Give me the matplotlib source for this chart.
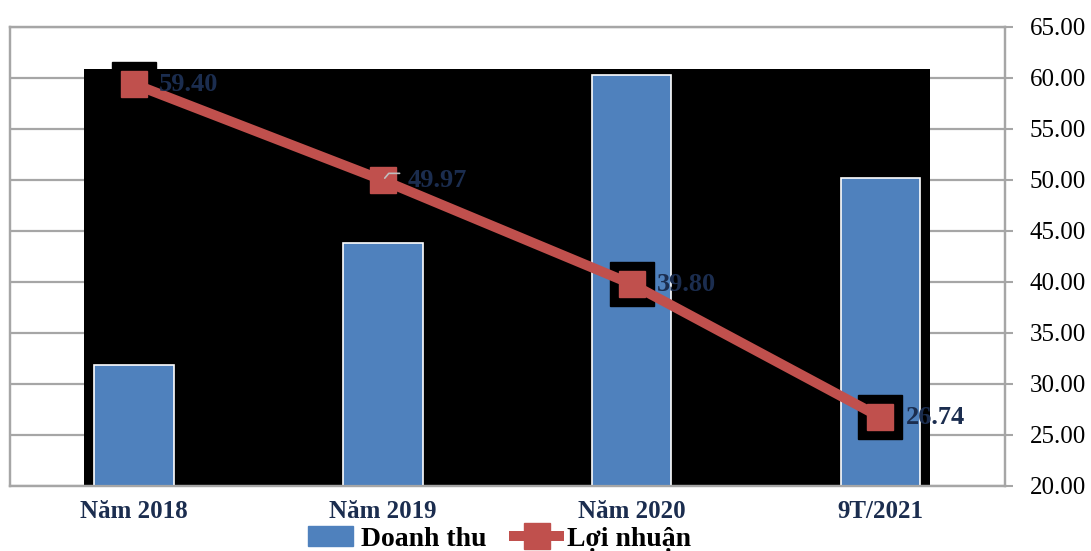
import matplotlib
matplotlib.use("Agg")
import matplotlib.pyplot as plt
from matplotlib.patches import Rectangle, Patch
from matplotlib.lines import Line2D

categories = ["Năm 2018", "Năm 2019", "Năm 2020", "9T/2021"]
doanh_thu = [11.9, 23.8, 40.3, 30.2]
loi_nhuan = [59.40, 49.97, 39.80, 26.74]
right_ticks = [20, 25, 30, 35, 40, 45, 50, 55, 60, 65]

BLUE = "#4F81BD"
RED = "#C0504D"
NAVY = "#1B2D4F"
GRID = "#A6A6A6"

plt.rcParams["font.family"] = ["Liberation Serif", "DejaVu Serif"]

fig = plt.figure(figsize=(10.91, 5.51), dpi=100)
ax = fig.add_axes([0.009, 0.118, 0.912, 0.833])
ax2 = ax.twinx()

x = list(range(len(categories)))

# revenue bars on a hidden primary axis
ax.set_ylim(0, 45)
ax.set_xlim(-0.5, 3.5)
ax.bar(x, doanh_thu, width=0.32, color=BLUE, edgecolor="white", linewidth=1.2, zorder=3)
ax.set_yticks([])
ax.tick_params(axis="x", length=0, pad=10)
ax.set_xticks(x)
ax.set_xticklabels(categories, fontsize=18, fontweight="bold", color=NAVY)

# black block behind the series
ax.add_patch(Rectangle((0.075, 0.0), 0.85, 0.908, transform=ax.transAxes,
                       facecolor="black", edgecolor="none", zorder=1))

# gridlines drawn on ax so they stay under the bars
for v in right_ticks:
    ax.axhline(v - 20, color=GRID, linewidth=1.6, zorder=0)

ax2.set_ylim(20, 65)
ax2.set_yticks(right_ticks)
ax2.set_yticklabels([f"{v:.2f}" for v in right_ticks], fontsize=18, color="black")
ax2.tick_params(axis="y", length=6, color=GRID, width=1.5, pad=12)

for a in (ax, ax2):
    for s in a.spines.values():
        s.set_color(GRID)
        s.set_linewidth(1.6)

# black boxes behind some markers, as in the source
ax2.plot(x[:1] + x[2:], loi_nhuan[:1] + loi_nhuan[2:], linestyle="none", marker="s",
         markersize=31, color="black", zorder=4)
ax2.plot(x, loi_nhuan, color=RED, linewidth=7.2, marker="s", markersize=19,
         markerfacecolor=RED, markeredgecolor=RED, zorder=5)

# small leader line next to the 2019 label
ax2.annotate("", xy=(x[1], loi_nhuan[1]), xytext=(14, 5), textcoords="offset points",
             xycoords="data", zorder=6,
             arrowprops=dict(arrowstyle="-", color="#BFBFBF", lw=1.2,
                             connectionstyle="angle,angleA=0,angleB=50,rad=0"))

for xi, v in zip(x, loi_nhuan):
    ax2.annotate(f"{v:.2f}", (xi, v), xytext=(18, 0), textcoords="offset points",
                 ha="left", va="center", fontsize=19, fontweight="bold", color=NAVY, zorder=6)

handles = [Patch(facecolor=BLUE, edgecolor=BLUE),
           Line2D([0], [0], color=RED, linewidth=7.2, marker="s", markersize=19)]
fig.legend(handles, ["Doanh thu", "Lợi nhuận"], loc="center", ncol=2,
           bbox_to_anchor=(0.458, 0.022), frameon=False, handlelength=1.6,
           columnspacing=1.0, handletextpad=0.3, borderpad=0.1,
           prop={"family": ["Liberation Serif", "DejaVu Serif"], "size": 20, "weight": "bold"})

fig.savefig("out.png", dpi=100)
